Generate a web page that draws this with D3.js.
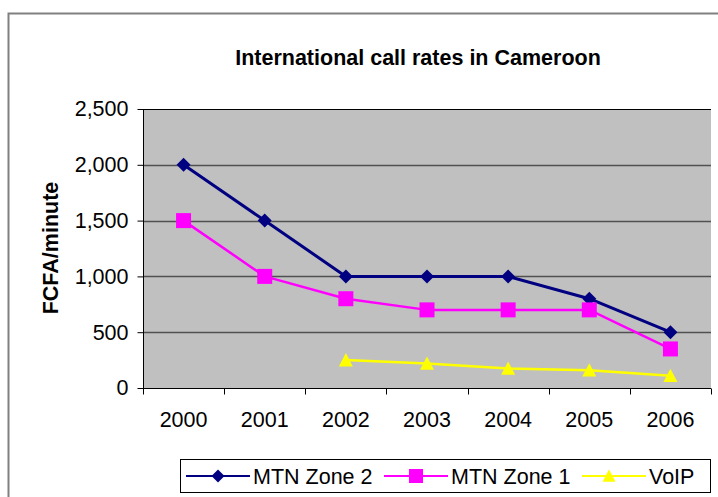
<!DOCTYPE html>
<html>
<head>
<meta charset="utf-8">
<script src="https://cdn.jsdelivr.net/npm/d3@7"></script>
<style>
  html, body { margin: 0; padding: 0; background: #fff; }
  svg { display: block; font-family: Arial, "Liberation Sans", sans-serif; }
</style>
</head>
<body>
<svg id="chart" width="718" height="497"></svg>
<script>
const years = ["2000", "2001", "2002", "2003", "2004", "2005", "2006"];
const mtnZone2 = [2000, 1500, 1000, 1000, 1000, 800, 500];
const mtnZone1 = [1500, 1000, 800, 700, 700, 700, 350];
const voip = [null, null, 250, 220, 175, 160, 110];
const yTicks = [0, 500, 1000, 1500, 2000, 2500];
const title = "International call rates in Cameroon";
const yTitle = "FCFA/minute";

const series = [
  { name: "MTN Zone 2", values: mtnZone2, color: "#000080", width: 3, marker: "diamond" },
  { name: "MTN Zone 1", values: mtnZone1, color: "#FF00FF", width: 2.5, marker: "square" },
  { name: "VoIP", values: voip, color: "#FFFF00", width: 2.5, marker: "triangle" }
];

const FS = 21.5;
const svg = d3.select("#chart");

svg.append("rect").attr("x", 8.5).attr("y", 13.5).attr("width", 720).attr("height", 500)
  .attr("fill", "#fff").attr("stroke", "#808080").attr("stroke-width", 2);

const plot = { left: 143, top: 109, right: 711, bottom: 388 };

const x = d3.scaleBand().domain(years).range([plot.left, plot.right]).padding(0);
const y = d3.scaleLinear().domain([0, 2500]).range([plot.bottom, plot.top]);

svg.append("rect").attr("x", plot.left).attr("y", plot.top)
  .attr("width", plot.right - plot.left).attr("height", plot.bottom - plot.top)
  .attr("fill", "#C0C0C0");

svg.append("g").selectAll("line").data(yTicks.filter(d => d > 0)).join("line")
  .attr("x1", plot.left).attr("x2", plot.right)
  .attr("y1", d => Math.round(y(d)) + 0.5).attr("y2", d => Math.round(y(d)) + 0.5)
  .attr("stroke", d => d === 2500 ? "#000" : "#505050").attr("stroke-width", d => d === 2500 ? 1 : 1.5);

const yAxis = d3.axisLeft(y).tickValues(yTicks).tickSize(6).tickPadding(9)
  .tickFormat(d3.format(","));
const gy = svg.append("g").attr("transform", `translate(${plot.left + 0.5},0)`).call(yAxis);
gy.select(".domain").attr("stroke", "#000").attr("d", `M0,${plot.top}V${plot.bottom}`);
gy.selectAll(".tick line").attr("stroke", "#000");
gy.selectAll(".tick text").attr("font-size", FS).attr("fill", "#000")
  .attr("font-family", "Arial, 'Liberation Sans', sans-serif");

const xAxis = d3.axisBottom(x).tickSize(0).tickPadding(0);
const gx = svg.append("g").attr("transform", `translate(0,${plot.bottom + 0.5})`).call(xAxis);
gx.select(".domain").attr("stroke", "#000").attr("d", `M${plot.left},0H${plot.right}`);
gx.selectAll(".tick text").attr("font-size", FS).attr("fill", "#000").attr("y", 31)
  .attr("dy", "0.35em")
  .attr("font-family", "Arial, 'Liberation Sans', sans-serif");
const bounds = years.map(d => x(d)).concat([x(years[years.length - 1]) + x.bandwidth()]);
gx.append("g").selectAll("line").data(bounds).join("line")
  .attr("x1", d => Math.round(d) + 0.5).attr("x2", d => Math.round(d) + 0.5)
  .attr("y1", 0).attr("y2", 6).attr("stroke", "#000");

function markerPath(type, s) {
  if (type === "diamond") return `M0,${-s}L${s},0L0,${s}L${-s},0Z`;
  if (type === "square") return `M${-s},${-s}H${s}V${s}H${-s}Z`;
  return `M0,${-s}L${s},${s * 0.9}H${-s}Z`;
}
const markerSize = { diamond: 7, square: 7.5, triangle: 7 };

const cx = d => x(d) + x.bandwidth() / 2;

series.forEach(s => {
  const pts = years.map((yr, i) => ({ yr, v: s.values[i] })).filter(p => p.v != null);
  const line = d3.line().x(p => cx(p.yr)).y(p => y(p.v));
  svg.append("path").datum(pts).attr("d", line).attr("fill", "none")
    .attr("stroke", s.color).attr("stroke-width", s.width).attr("stroke-linejoin", "round");
  svg.append("g").selectAll("path").data(pts).join("path")
    .attr("transform", p => `translate(${cx(p.yr)},${y(p.v)})`)
    .attr("d", markerPath(s.marker, markerSize[s.marker]))
    .attr("fill", s.color);
});

svg.append("text").attr("x", 418).attr("y", 57).attr("dy", "0.35em")
  .attr("text-anchor", "middle").attr("font-weight", "bold").attr("font-size", FS)
  .text(title);

svg.append("text").attr("transform", `translate(50,248) rotate(-90)`)
  .attr("text-anchor", "middle").attr("dy", "0.35em")
  .attr("font-weight", "bold").attr("font-size", FS).text(yTitle);

const legend = svg.append("g");
legend.append("rect").attr("x", 180.5).attr("y", 459.5).attr("width", 530).attr("height", 33)
  .attr("fill", "#fff").attr("stroke", "#000").attr("stroke-width", 1);
const legendX = [186, 384, 582];
const legendY = 476;
series.forEach((s, i) => {
  const g = legend.append("g").attr("transform", `translate(${legendX[i]},${legendY})`);
  g.append("line").attr("x1", 0).attr("x2", 64).attr("y1", 0).attr("y2", 0)
    .attr("stroke", s.color).attr("stroke-width", 2);
  g.append("path").attr("transform", i === 2 ? "translate(27,0)" : (i === 0 ? "translate(32,0)" : "translate(32,0)"))
    .attr("d", markerPath(s.marker, markerSize[s.marker] - 0.5)).attr("fill", s.color);
  g.append("text").attr("x", 67).attr("y", 0).attr("dy", "0.35em")
    .attr("font-size", FS).text(s.name);
});
</script>
</body>
</html>
